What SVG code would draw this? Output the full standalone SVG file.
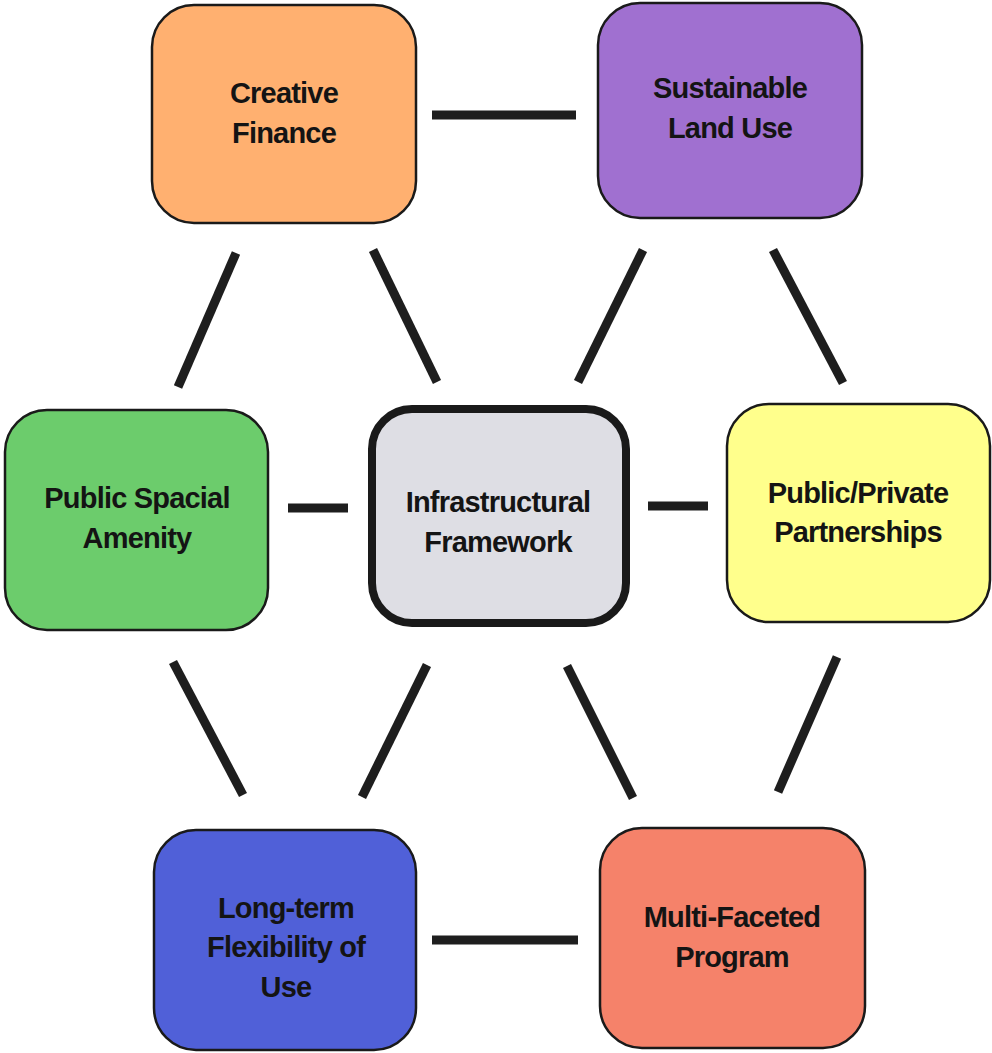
<svg xmlns="http://www.w3.org/2000/svg" width="992" height="1053" viewBox="0 0 992 1053">
<style>
.box{stroke:#1a1a1a;stroke-width:2.5}
.center{stroke:#1a1a1a;stroke-width:8}
.lbl{font-family:"Liberation Sans",Arial,sans-serif;font-weight:bold;font-size:29px;letter-spacing:-0.8px;fill:#141414;text-anchor:middle}
.conn line{stroke:#1e1e1e;stroke-width:9;stroke-linecap:butt}
</style>
<rect width="992" height="1053" fill="#ffffff"/>
<g id="connectors" class="conn">
<line x1="432" y1="115" x2="576" y2="115"/>
<line x1="432" y1="940" x2="578" y2="940"/>
<line x1="288" y1="508" x2="348" y2="508"/>
<line x1="648" y1="506" x2="708" y2="506"/>
<line x1="236" y1="253" x2="178" y2="387"/>
<line x1="373" y1="250" x2="437" y2="382"/>
<line x1="643" y1="250" x2="578" y2="382"/>
<line x1="773" y1="250" x2="843" y2="383"/>
<line x1="173" y1="662" x2="243" y2="795"/>
<line x1="427" y1="665" x2="362" y2="797"/>
<line x1="567" y1="666" x2="633" y2="798"/>
<line x1="837" y1="657" x2="778" y2="792"/>
</g>
<g id="creative-finance">
<rect class="box" x="152" y="5" width="264" height="218" rx="42" fill="#FFB070"/>
<text class="lbl" x="284" y="103">Creative</text>
<text class="lbl" x="284" y="143">Finance</text>
</g>
<g id="sustainable-land-use">
<rect class="box" x="598" y="3" width="264" height="215" rx="42" fill="#A070D0"/>
<text class="lbl" x="730" y="98">Sustainable</text>
<text class="lbl" x="730" y="138">Land Use</text>
</g>
<g id="public-spacial-amenity">
<rect class="box" x="5" y="410" width="263" height="220" rx="42" fill="#6CCC6C"/>
<text class="lbl" x="137" y="508">Public Spacial</text>
<text class="lbl" x="137" y="548">Amenity</text>
</g>
<g id="infrastructural-framework">
<rect class="center" x="372" y="409" width="254" height="214" rx="40" fill="#DEDEE4"/>
<text class="lbl" x="498" y="512">Infrastructural</text>
<text class="lbl" x="498" y="552">Framework</text>
</g>
<g id="public-private-partnerships">
<rect class="box" x="727" y="404" width="263" height="218" rx="42" fill="#FFFF8C"/>
<text class="lbl" x="858" y="503">Public/Private</text>
<text class="lbl" x="858" y="542">Partnerships</text>
</g>
<g id="long-term-flexibility">
<rect class="box" x="154" y="830" width="262" height="220" rx="42" fill="#5060D8"/>
<text class="lbl" x="286" y="918">Long-term</text>
<text class="lbl" x="286" y="957">Flexibility of</text>
<text class="lbl" x="286" y="997">Use</text>
</g>
<g id="multi-faceted-program">
<rect class="box" x="600" y="828" width="265" height="220" rx="42" fill="#F5826A"/>
<text class="lbl" x="732" y="927">Multi-Faceted</text>
<text class="lbl" x="732" y="967">Program</text>
</g>
</svg>
